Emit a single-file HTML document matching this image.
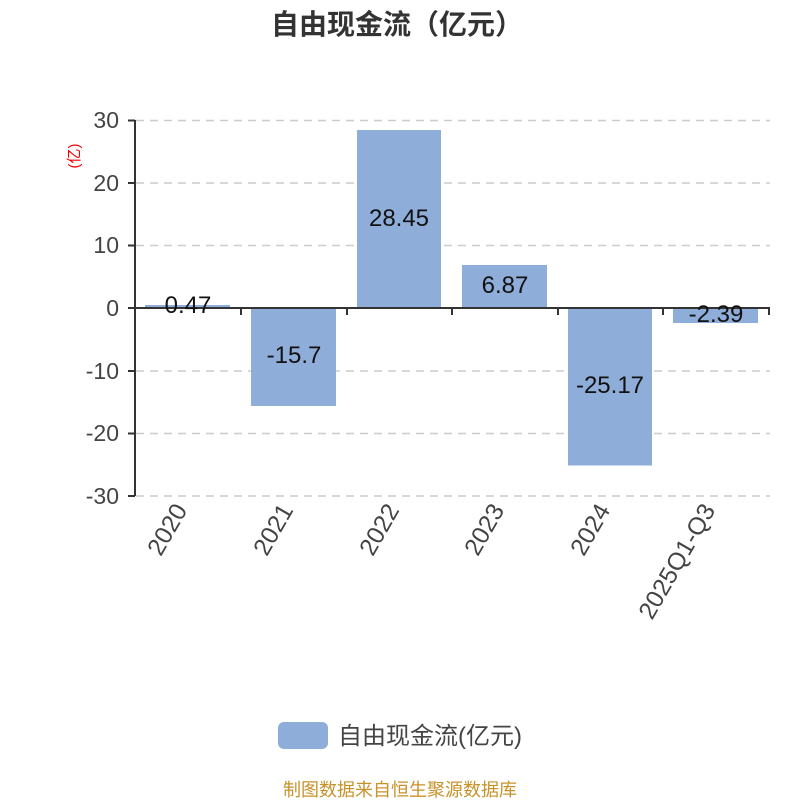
<!DOCTYPE html>
<html><head><meta charset="utf-8"><style>
body{margin:0;background:#fff}
svg text{font-family:"Liberation Sans","Noto Sans CJK SC",sans-serif}
</style></head><body>
<svg width="800" height="800" xmlns="http://www.w3.org/2000/svg">
<text x="397" y="34" text-anchor="middle" font-size="28" font-weight="bold" fill="#333">自由现金流（亿元）</text>
<g stroke="#ccc" stroke-width="1.5" stroke-dasharray="8,6">
<line x1="136" y1="120.5" x2="770" y2="120.5"/>
<line x1="136" y1="183" x2="770" y2="183"/>
<line x1="136" y1="245.5" x2="770" y2="245.5"/>
<line x1="136" y1="371" x2="770" y2="371"/>
<line x1="136" y1="433.5" x2="770" y2="433.5"/>
<line x1="136" y1="496" x2="770" y2="496"/>
</g>
<g fill="#8eadd9">
<rect x="145" y="305" width="85" height="3"/>
<rect x="251" y="308" width="85" height="98"/>
<rect x="357" y="130" width="84" height="178"/>
<rect x="462" y="265" width="85" height="43"/>
<rect x="568" y="308" width="84" height="157.5"/>
<rect x="673" y="308" width="85" height="15"/>
</g>
<g stroke="#333" stroke-width="2" fill="none">
<line x1="135" y1="120" x2="135" y2="496"/>
<line x1="134" y1="308" x2="770" y2="308"/>
<line x1="128" y1="120.5" x2="135" y2="120.5"/>
<line x1="128" y1="183" x2="135" y2="183"/>
<line x1="128" y1="245.5" x2="135" y2="245.5"/>
<line x1="128" y1="308" x2="135" y2="308"/>
<line x1="128" y1="371" x2="135" y2="371"/>
<line x1="128" y1="433.5" x2="135" y2="433.5"/>
<line x1="128" y1="496" x2="135" y2="496"/>
<line x1="241" y1="308" x2="241" y2="315"/>
<line x1="347" y1="308" x2="347" y2="315"/>
<line x1="452" y1="308" x2="452" y2="315"/>
<line x1="558" y1="308" x2="558" y2="315"/>
<line x1="663" y1="308" x2="663" y2="315"/>
<line x1="769" y1="308" x2="769" y2="315"/>
</g>
<g font-size="23" fill="#444" text-anchor="end">
<text x="119" y="128">30</text>
<text x="119" y="191">20</text>
<text x="119" y="253">10</text>
<text x="119" y="316">0</text>
<text x="119" y="379">-10</text>
<text x="119" y="441">-20</text>
<text x="119" y="504">-30</text>
</g>
<text transform="translate(79,156) rotate(-90)" font-size="15" fill="#e00" text-anchor="middle">(亿)</text>
<g font-size="24" fill="#111" text-anchor="middle">
<text x="188" y="313">0.47</text>
<text x="294" y="363">-15.7</text>
<text x="399" y="226">28.45</text>
<text x="505" y="293">6.87</text>
<text x="610" y="393">-25.17</text>
<text x="716" y="322">-2.39</text>
</g>
<g font-size="24.5" fill="#444" text-anchor="end">
<text transform="translate(188,510) rotate(-60)">2020</text>
<text transform="translate(294,510) rotate(-60)">2021</text>
<text transform="translate(400,510) rotate(-60)">2022</text>
<text transform="translate(505,510) rotate(-60)">2023</text>
<text transform="translate(611,510) rotate(-60)">2024</text>
<text transform="translate(716,510) rotate(-60)">2025Q1-Q3</text>
</g>
<rect x="278" y="722" width="50" height="27" rx="6" fill="#8eadd9"/>
<text x="338" y="744" font-size="24" fill="#444">自由现金流(亿元)</text>
<text x="400" y="796" font-size="18" fill="#c8922a" text-anchor="middle">制图数据来自恒生聚源数据库</text>
</svg>
</body></html>
